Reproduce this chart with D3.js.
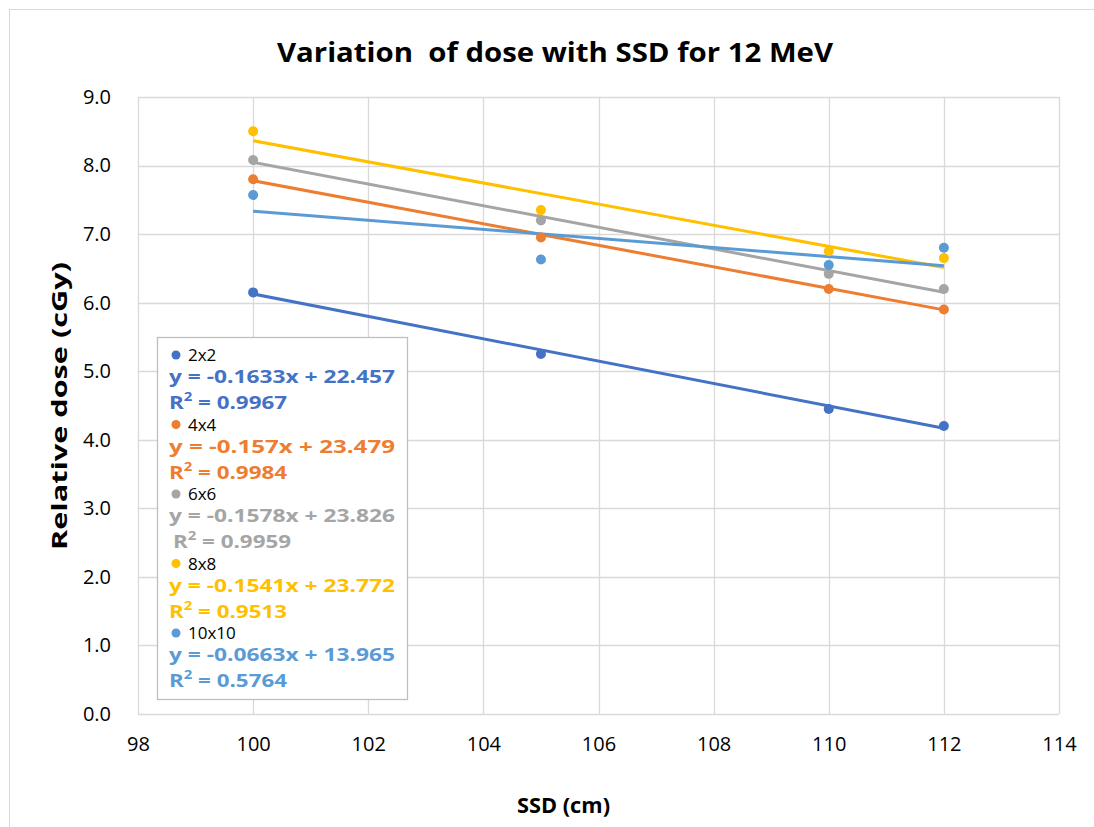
<!DOCTYPE html>
<html>
<head>
<meta charset="utf-8">
<script src="https://cdn.jsdelivr.net/npm/d3@7"></script>
<style>
  body { margin: 0; background: #fff; }
  svg { display: block; font-family: "Open Sans", "Noto Sans", sans-serif; }
</style>
</head>
<body>
<svg id="chart" width="1094" height="827"></svg>
<script>
// SSD values (cm)
const ssd = [100, 105, 110, 112];

// Field sizes and relative dose readings
const fields = ["2x2", "4x4", "6x6", "8x8", "10x10"];
const dose2x2 = [6.15, 5.25, 4.45, 4.2];
const dose4x4 = [7.8, 6.95, 6.2, 5.9];
const dose6x6 = [8.08, 7.2, 6.42, 6.2];
const dose8x8 = [8.5, 7.35, 6.75, 6.65];
const dose10x10 = [7.57, 6.63, 6.55, 6.8];

// Linear trendline fits, as printed in the legend
const slopes = [-0.1633, -0.157, -0.1578, -0.1541, -0.0663];
const intercepts = [22.457, 23.479, 23.826, 23.772, 13.965];
const rSquared = ["0.9967", "0.9984", "0.9959", "0.9513", "0.5764"];

const colors = ["#4472C4", "#ED7D31", "#A5A5A5", "#FFC000", "#5B9BD5"];

const xTicks = [98, 100, 102, 104, 106, 108, 110, 112, 114];
const yTicks = [0, 1, 2, 3, 4, 5, 6, 7, 8, 9];

const series = [dose2x2, dose4x4, dose6x6, dose8x8, dose10x10].map((vals, i) => ({
  name: fields[i],
  color: colors[i],
  points: vals.map((v, j) => ({ x: ssd[j], y: v })),
  slope: slopes[i],
  intercept: intercepts[i],
  r2: rSquared[i],
}));

const svg = d3.select("#chart");

// Outer chart border
svg.append("rect")
  .attr("x", 9.5).attr("y", 9.5)
  .attr("width", 1100).attr("height", 830)
  .attr("fill", "none").attr("stroke", "#d9d9d9");

const plot = { left: 138, right: 1059, top: 97, bottom: 714 };

const x = d3.scaleLinear().domain([98, 114]).range([plot.left, plot.right]);
const y = d3.scaleLinear().domain([0, 9]).range([plot.bottom, plot.top]);

// Gridlines
const grid = svg.append("g").attr("stroke", "#d9d9d9").attr("stroke-width", 1.3);
grid.selectAll("line.v").data(xTicks).join("line")
  .attr("x1", (d) => Math.round(x(d)) + 0.5).attr("x2", (d) => Math.round(x(d)) + 0.5)
  .attr("y1", plot.top).attr("y2", plot.bottom);
grid.selectAll("line.h").data(yTicks).join("line")
  .attr("y1", (d) => Math.round(y(d)) + 0.5).attr("y2", (d) => Math.round(y(d)) + 0.5)
  .attr("x1", plot.left).attr("x2", plot.right);

// Axes (labels only, Excel style)
const xAxis = svg.append("g")
  .attr("transform", `translate(0,${plot.bottom + 20})`)
  .call(d3.axisBottom(x).tickValues(xTicks).tickSize(0).tickFormat(d3.format("d")));
xAxis.select(".domain").remove();
xAxis.selectAll("text")
  .attr("font-family", "Open Sans, sans-serif")
  .attr("font-size", 20).attr("fill", "#000");

const yAxis = svg.append("g")
  .attr("transform", `translate(${plot.left - 24},0)`)
  .call(d3.axisLeft(y).tickValues(yTicks).tickSize(0).tickFormat(d3.format(".1f")));
yAxis.select(".domain").remove();
yAxis.selectAll("text")
  .attr("font-family", "Open Sans, sans-serif")
  .attr("font-size", 20).attr("fill", "#000");

// Trendlines
svg.append("g").selectAll("line").data(series).join("line")
  .attr("x1", x(ssd[0])).attr("x2", x(ssd[ssd.length - 1]))
  .attr("y1", (s) => y(s.slope * ssd[0] + s.intercept))
  .attr("y2", (s) => y(s.slope * ssd[ssd.length - 1] + s.intercept))
  .attr("stroke", (s) => s.color)
  .attr("stroke-width", 3);

// Points
svg.append("g").selectAll("g").data(series).join("g")
  .attr("fill", (s) => s.color)
  .selectAll("circle").data((s) => s.points).join("circle")
  .attr("cx", (d) => x(d.x)).attr("cy", (d) => y(d.y)).attr("r", 5);

// Title and axis titles
svg.append("text")
  .attr("x", 277).attr("y", 62)
  .attr("font-size", 26).attr("font-weight", "bold")
  .attr("textLength", 556).attr("lengthAdjust", "spacingAndGlyphs")
  .style("white-space", "pre")
  .text("Variation  of dose with SSD for 12 MeV");

svg.append("text")
  .attr("transform", `translate(67,262) rotate(-90)`)
  .attr("text-anchor", "end")
  .attr("font-size", 22).attr("font-weight", "bold")
  .attr("textLength", 288).attr("lengthAdjust", "spacingAndGlyphs")
  .text("Relative dose (cGy)");

svg.append("text")
  .attr("x", 517).attr("y", 813)
  .attr("font-size", 22).attr("font-weight", "bold")
  .attr("textLength", 93).attr("lengthAdjust", "spacingAndGlyphs")
  .text("SSD (cm)");

// Legend with trendline equations
const legend = svg.append("g");
legend.append("rect")
  .attr("x", 157.5).attr("y", 337.5)
  .attr("width", 250).attr("height", 362)
  .attr("fill", "#fff").attr("stroke", "#bfbfbf").attr("stroke-width", 1.3);

const entryH = 69.5;
const fmtEq = (s) => `y = ${s.slope}x + ${s.intercept}`;
series.forEach((s, i) => {
  const y0 = 355 + i * entryH;
  legend.append("circle")
    .attr("cx", 176).attr("cy", y0).attr("r", 4.5).attr("fill", s.color);
  legend.append("text")
    .attr("x", 188).attr("y", y0 + 6)
    .attr("font-size", 17).attr("fill", "#000")
    .text(s.name);
  legend.append("text")
    .attr("x", 169).attr("y", y0 + 28)
    .attr("font-size", 18).attr("font-weight", "bold")
    .attr("fill", s.color)
    .attr("textLength", 226).attr("lengthAdjust", "spacingAndGlyphs")
    .text(fmtEq(s));
  const r2 = legend.append("text")
    .attr("x", i === 2 ? 173 : 169).attr("y", y0 + 54)
    .attr("font-size", 18).attr("font-weight", "bold")
    .attr("fill", s.color)
    .attr("textLength", 118).attr("lengthAdjust", "spacingAndGlyphs");
  r2.append("tspan").text("R");
  r2.append("tspan").attr("font-size", 12).attr("dy", -8).text("2");
  r2.append("tspan").attr("dy", 8).text(` = ${s.r2}`);
});
</script>
</body>
</html>
